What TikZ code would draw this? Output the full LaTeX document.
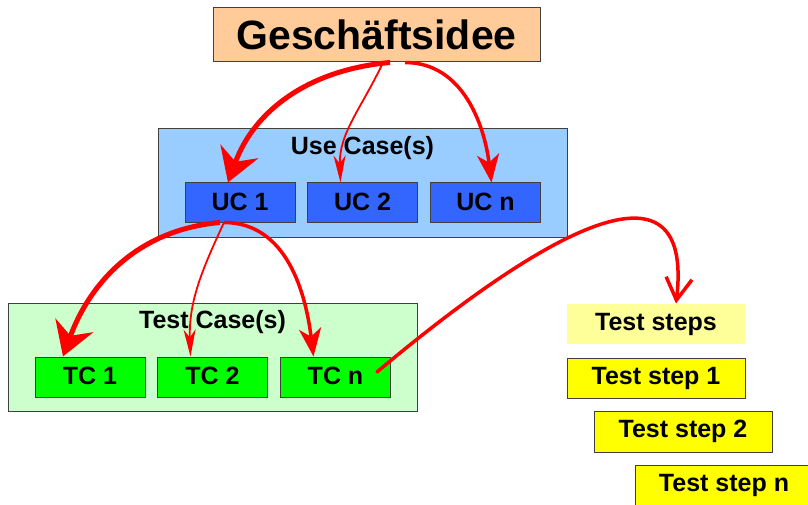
\documentclass[tikz,border=0pt]{standalone}
\usepackage{fontspec}
\setmainfont{Liberation Sans}
\usetikzlibrary{arrows.meta,positioning}

\definecolor{peach}{HTML}{FFCC99}
\definecolor{ucback}{HTML}{99CCFF}
\definecolor{ucblue}{HTML}{3366FF}
\definecolor{tcback}{HTML}{CCFFCC}
\definecolor{tcgreen}{HTML}{00FF00}
\definecolor{stepback}{HTML}{FFFF99}
\definecolor{stepyellow}{HTML}{FFFF00}

\tikzset{
  box/.style={draw=black!75, line width=1pt, inner sep=0pt,
    font=\fontsize{25}{28}\selectfont\bfseries},
  small/.style={box, minimum width=110pt, minimum height=39pt},
  stepbox/.style={box, fill=stepyellow, minimum width=178pt, minimum height=40pt},
  title/.style={inner sep=0pt, font=\fontsize{25}{28}\selectfont\bfseries},
  bigarr/.style={red, line width=5pt, -{Stealth[length=33pt,width=40pt,inset=11pt]}},
  midarr/.style={red, line width=3.5pt, -{Stealth[length=28pt,width=22pt,inset=8pt]}},
  thinarr/.style={red, line width=1.8pt, -{Stealth[length=27pt,width=12pt,inset=8pt]}},
  openarr/.style={red, line width=3.5pt, line cap=round, -{Straight Barb[length=22pt,width=26pt]}}
}

\begin{document}
\begin{tikzpicture}[x=1pt,y=1pt]
\useasboundingbox (0,0) rectangle (808,-505);

% idea
\node[box, fill=peach, minimum width=327pt, minimum height=54pt,
  font=\fontsize{41}{45}\selectfont\bfseries] (idee) at (376.5,-35) {Geschäftsidee};

% use cases
\node[box, fill=ucback, minimum width=409pt, minimum height=108pt] (ucbox) at (362.5,-183) {};
\node[title, below=8pt of ucbox.north] (uctitle) {Use Case(s)};
\node[small, fill=ucblue] (uc1) at (240,-202.5) {\raisebox{2pt}{UC 1}};
\node[small, fill=ucblue] (uc2) at (362.5,-202.5) {\raisebox{2pt}{UC 2}};
\node[small, fill=ucblue] (ucn) at (485.5,-202.5) {\raisebox{2pt}{UC n}};

% test cases
\node[box, fill=tcback, minimum width=409pt, minimum height=108pt] (tcbox) at (212.5,-357) {};
\node[title, below=8pt of tcbox.north] (tctitle) {Test Case(s)};
\node[small, fill=tcgreen, minimum height=40pt] (tc1) at (90,-377) {\raisebox{2pt}{TC 1}};
\node[small, fill=tcgreen, minimum height=40pt] (tc2) at (212.5,-377) {\raisebox{2pt}{TC 2}};
\node[small, fill=tcgreen, minimum height=40pt] (tcn) at (335.5,-377) {\raisebox{2pt}{TC n}};

% test steps
\node[stepbox, draw=none, fill=stepback] (steps) at (656,-324) {\raisebox{2pt}{Test steps}};
\node[stepbox] (step1) at (656,-378) {\raisebox{2pt}{Test step 1}};
\node[stepbox, minimum height=41pt] (step2) at (683,-431.5) {\raisebox{2pt}{Test step 2}};
\node[stepbox] (stepn) at (724,-485) {\raisebox{2pt}{Test step n}};

\draw[bigarr] ([xshift=13.5pt]idee.south) to[out=185,in=70] ([xshift=-12pt]uc1.north);
\draw[thinarr] ([xshift=6.5pt]idee.south) to[out=245,in=92] ([xshift=-22pt]uc2.north);
\draw[midarr] ([xshift=28.5pt]idee.south) to[out=0,in=97] ([xshift=6pt]ucn.north);

\draw[bigarr] ([xshift=-20pt]uc1.south) to[out=185,in=70] ([xshift=-27pt]tc1.north);
\draw[thinarr] ([xshift=-16pt]uc1.south) to[out=245,in=92] ([xshift=-22pt]tc2.north);
\draw[midarr] ([xshift=-16pt]uc1.south) to[out=0,in=97] ([xshift=-22pt]tcn.north);

\coordinate (tcnend) at ([shift={(41.5pt,5pt)}]tcn.center);
\draw[openarr] (tcnend) .. controls (540,-235) and (695,-145) .. ([xshift=20pt]steps.north);

\end{tikzpicture}
\end{document}
